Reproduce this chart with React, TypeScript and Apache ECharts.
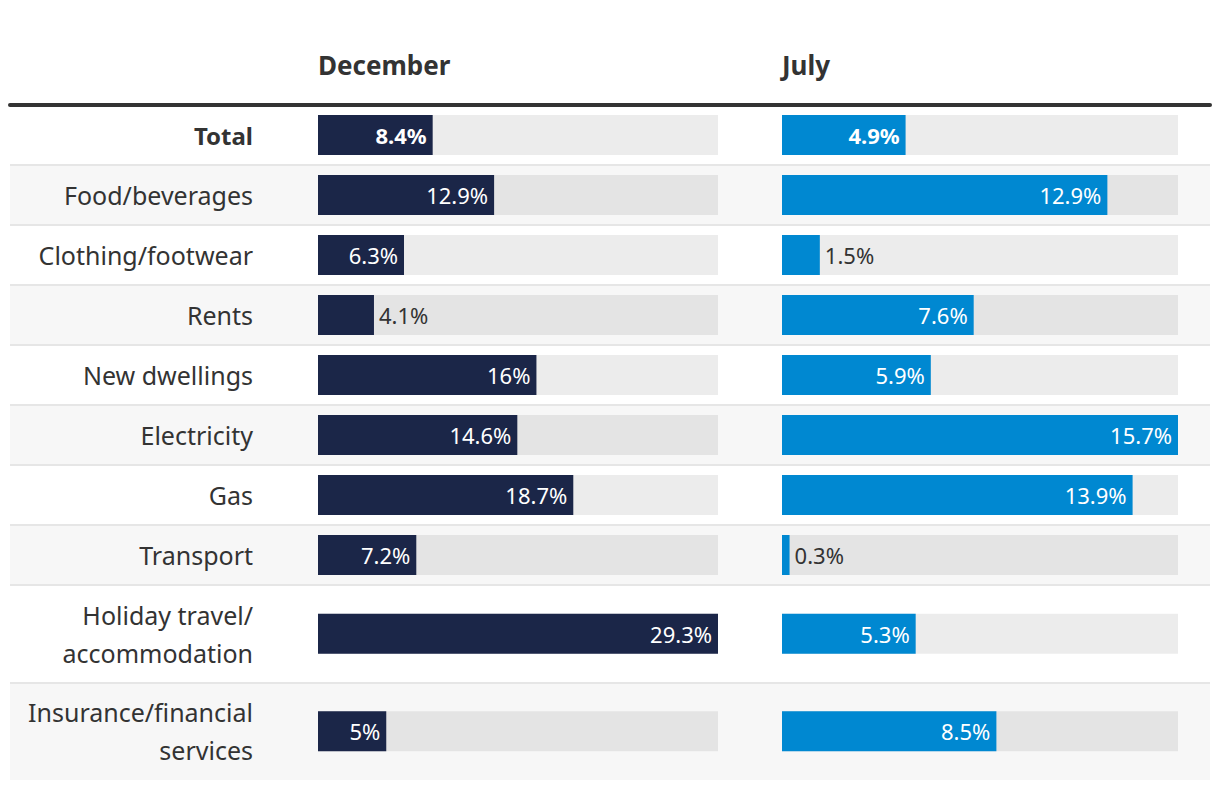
import React, { useEffect, useRef } from "react";
import * as echarts from "echarts";

const categories = [
  "Total",
  "Food/beverages",
  "Clothing/footwear",
  "Rents",
  "New dwellings",
  "Electricity",
  "Gas",
  "Transport",
  "Holiday travel/\naccommodation",
  "Insurance/financial\nservices",
];
const december = [8.4, 12.9, 6.3, 4.1, 16, 14.6, 18.7, 7.2, 29.3, 5];
const july = [4.9, 12.9, 1.5, 7.6, 5.9, 15.7, 13.9, 0.3, 5.3, 8.5];
const columnTitles = ["December", "July"];

const FONT = "'Noto Sans', 'Open Sans', sans-serif";
const TEXT = "#333333";
const DEC_COLOR = "#1b2648";
const JUL_COLOR = "#0088d1";
const SEP = "#e6e6e6";

export default function App() {
  const ref = useRef<HTMLDivElement>(null);

  useEffect(() => {
    if (!ref.current) return;
    const chart = echarts.init(ref.current, null, { renderer: "svg" });

    const split = 8;
    const topCats = categories.slice(0, split);
    const botCats = categories.slice(split);

    const decMax = Math.max(...december);
    const julMax = Math.max(...july);
    const decW = 400;
    const julW = 396;

    const makeData = (vals: number[], max: number, w: number, offset: number) =>
      vals.map((v, i) => {
        const px = (v / max) * w;
        const inside = px >= 62;
        const bold = i + offset === 0;
        return {
          value: v,
          label: {
            show: true,
            position: inside ? "insideRight" : "right",
            distance: inside ? 6 : 5,
            color: inside ? "#ffffff" : TEXT,
            fontWeight: bold ? "bold" : "normal",
          },
        };
      });

    const rowsTop = 105;
    const rowH = 60;
    const topH = rowH * split; // 480
    const botTop = rowsTop + topH;
    const botH = 195;

    const grids = [
      { left: 10, right: 10, top: rowsTop, height: topH },
      { left: 10, right: 10, top: botTop, height: botH },
      { left: 318, width: decW, top: rowsTop, height: topH },
      { left: 318, width: decW, top: botTop, height: botH },
      { left: 782, width: julW, top: rowsTop, height: topH },
      { left: 782, width: julW, top: botTop, height: botH },
    ];

    const hiddenX = (gi: number, max: number) => ({
      type: "value",
      gridIndex: gi,
      min: 0,
      max,
      show: false,
    });

    const xAxes = [
      {
        type: "value",
        gridIndex: 0,
        min: 0,
        max: 1,
        position: "top",
        axisLine: { show: true, lineStyle: { color: TEXT, width: 4 } },
        axisTick: { show: false },
        axisLabel: { show: false },
        splitLine: { show: false },
      },
      hiddenX(1, 1),
      hiddenX(2, decMax),
      hiddenX(3, decMax),
      hiddenX(4, julMax),
      hiddenX(5, julMax),
    ];

    const bgY = (gi: number, data: string[], lineColors: string[]) => ({
      type: "category",
      gridIndex: gi,
      data,
      inverse: true,
      axisLine: { show: false },
      axisTick: { show: false },
      axisLabel: { show: false },
      splitLine: { show: true, lineStyle: { color: lineColors, width: 2 } },
      splitArea: { show: true, areaStyle: { color: ["#ffffff", "#f7f7f7"] } },
    });

    const labelY = (gi: number, data: string[]) => ({
      type: "category",
      gridIndex: gi,
      data,
      inverse: true,
      axisLine: { show: false },
      axisTick: { show: false },
      splitLine: { show: false },
      axisLabel: {
        show: true,
        margin: 65,
        color: TEXT,
        fontSize: 25,
        fontFamily: FONT,
        lineHeight: 38,
        align: "right",
        formatter: (v: string) => (v === categories[0] ? `{b|${v}}` : v),
        rich: {
          b: { fontWeight: "bold", fontSize: 24, fontFamily: FONT, color: TEXT },
        },
      },
    });

    const plainY = (gi: number, data: string[]) => ({
      type: "category",
      gridIndex: gi,
      data,
      inverse: true,
      axisLine: { show: false },
      axisTick: { show: false },
      axisLabel: { show: false },
      splitLine: { show: false },
    });

    const yAxes = [
      bgY(0, topCats, [SEP]),
      bgY(1, botCats, [SEP, SEP, "rgba(0,0,0,0)"]),
      labelY(2, topCats),
      labelY(3, botCats),
      plainY(4, topCats),
      plainY(5, botCats),
    ];

    const barSeries = (ai: number, data: any[], color: string, name: string) => ({
      type: "bar",
      name,
      xAxisIndex: ai,
      yAxisIndex: ai,
      data,
      barWidth: 40,
      itemStyle: { color },
      showBackground: true,
      backgroundStyle: { color: "rgba(0,0,0,0.075)" },
      label: {
        show: true,
        fontSize: 22,
        fontFamily: FONT,
        formatter: (p: any) => `${p.value}%`,
      },
      z: 3,
    });

    chart.setOption({
      animation: false,
      backgroundColor: "#ffffff",
      textStyle: { fontFamily: FONT },
      title: [
        {
          text: columnTitles[0],
          left: 318,
          top: 52,
          padding: 0,
          textStyle: { fontSize: 26, fontWeight: "bold", color: TEXT, fontFamily: FONT },
        },
        {
          text: columnTitles[1],
          left: 782,
          top: 52,
          padding: 0,
          textStyle: { fontSize: 26, fontWeight: "bold", color: TEXT, fontFamily: FONT },
        },
      ],
      grid: grids,
      xAxis: xAxes,
      yAxis: yAxes,
      series: [
        barSeries(2, makeData(december.slice(0, split), decMax, decW, 0), DEC_COLOR, "December"),
        barSeries(3, makeData(december.slice(split), decMax, decW, split), DEC_COLOR, "December"),
        barSeries(4, makeData(july.slice(0, split), julMax, julW, 0), JUL_COLOR, "July"),
        barSeries(5, makeData(july.slice(split), julMax, julW, split), JUL_COLOR, "July"),
      ],
    });

    return () => chart.dispose();
  }, []);

  return (
    <div
      ref={ref}
      style={{ position: "absolute", left: 0, top: 0, width: 1220, height: 790 }}
    />
  );
}
